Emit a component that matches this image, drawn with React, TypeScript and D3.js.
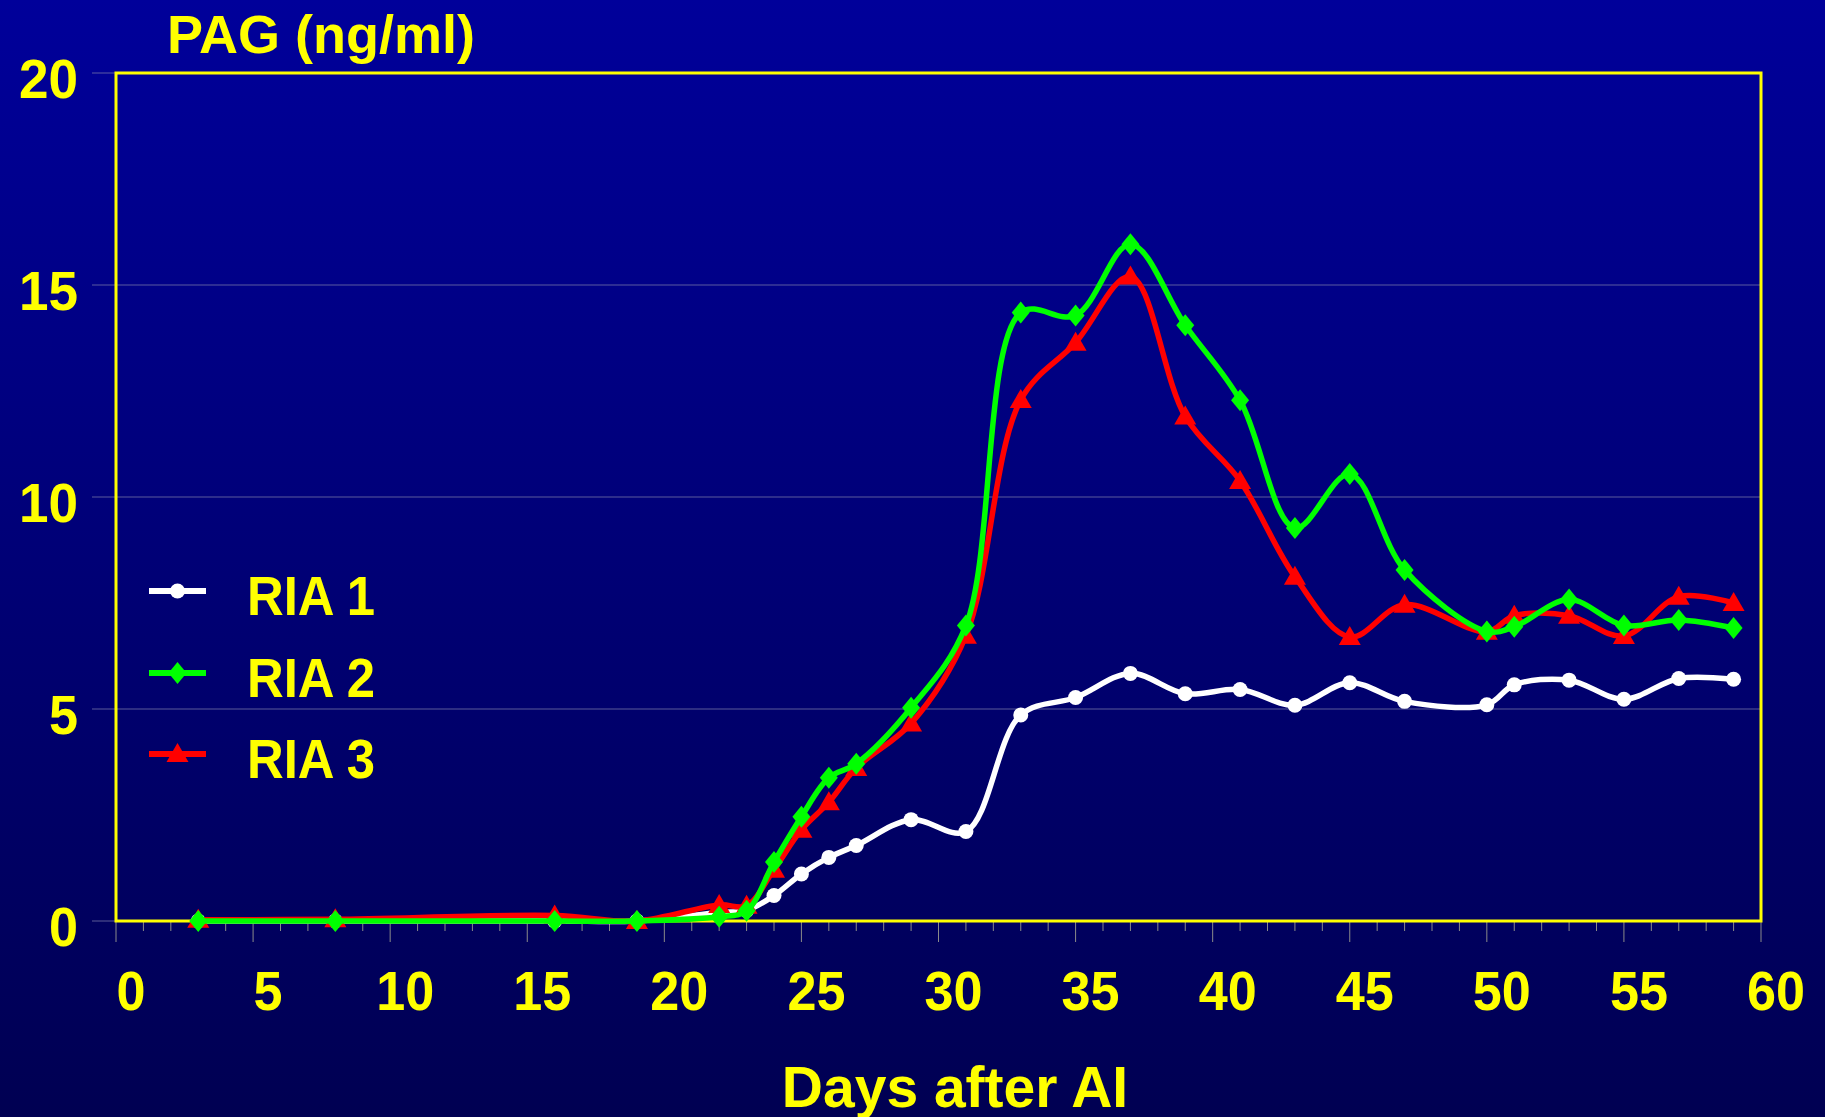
import React from "react";
import * as d3 from "d3";

const days = [3, 8, 16, 19, 22, 23, 24, 25, 26, 27, 29, 31, 33, 35, 37, 39, 41, 43, 45, 47, 50, 51, 53, 55, 57, 59];
const ria1 = [0, 0, 0, 0, 0.2, 0.25, 0.6, 1.11, 1.5, 1.78, 2.39, 2.11, 4.86, 5.27, 5.84, 5.36, 5.46, 5.09, 5.62, 5.18, 5.1, 5.57, 5.68, 5.23, 5.72, 5.7];
const ria2 = [0, 0, 0, 0, 0.1, 0.24, 1.39, 2.46, 3.38, 3.71, 5.03, 6.97, 14.35, 14.28, 15.96, 14.05, 12.28, 9.27, 10.54, 8.28, 6.83, 6.94, 7.58, 6.97, 7.1, 6.91];
const ria3 = [0.03, 0.04, 0.13, 0.0, 0.38, 0.36, 1.21, 2.15, 2.8, 3.61, 4.66, 6.73, 12.29, 13.64, 15.2, 11.9, 10.38, 8.12, 6.7, 7.46, 6.82, 7.2, 7.2, 6.72, 7.65, 7.5];

const xTicks = [0, 5, 10, 15, 20, 25, 30, 35, 40, 45, 50, 55, 60];
const yTicks = [0, 5, 10, 15, 20];
const legendLabels = ["RIA 1", "RIA 2", "RIA 3"];
const yTitle = "PAG (ng/ml)";
const xTitle = "Days after AI";

const W = 1825;
const H = 1117;
const YELLOW = "#FFFF00";
const FONT = "'Liberation Sans', Arial, sans-serif";

type Series = { name: string; values: number[]; color: string; marker: "circle" | "diamond" | "triangle" };

const series: Series[] = [
  { name: legendLabels[0], values: ria1, color: "#FFFFFF", marker: "circle" },
  { name: legendLabels[2], values: ria3, color: "#FF0000", marker: "triangle" },
  { name: legendLabels[1], values: ria2, color: "#00FF00", marker: "diamond" },
];

function Marker({ type, x, y, color }: { type: string; x: number; y: number; color: string }) {
  if (type === "circle") return <circle cx={x} cy={y} r={7.5} fill={color} />;
  if (type === "diamond")
    return <path d={`M${x},${y - 11} L${x + 9},${y} L${x},${y + 11} L${x - 9},${y} Z`} fill={color} />;
  return <path d={`M${x},${y - 11} L${x + 11},${y + 8} L${x - 11},${y + 8} Z`} fill={color} />;
}

export default function App() {
  const x = d3.scaleLinear().domain([0, 60]).range([116, 1761]);
  const y = d3.scaleLinear().domain([0, 20]).range([921, 73]);
  const line = d3
    .line<number>()
    .x((_, i) => x(days[i]))
    .y((v) => y(v))
    .curve(d3.curveCatmullRom.alpha(0.5));

  const minor = d3.range(0, 61, 1);
  const legendOrder = [
    { s: series[0], label: legendLabels[0] },
    { s: series[2], label: legendLabels[1] },
    { s: series[1], label: legendLabels[2] },
  ];
  const legendY = [591, 673, 754];

  return (
    <svg width={W} height={H} style={{ position: "absolute", left: 0, top: 0 }} fontFamily={FONT}>
      <defs>
        <linearGradient id="bg" x1="0" y1="0" x2="0" y2="1">
          <stop offset="0" stopColor="#00009A" />
          <stop offset="1" stopColor="#000052" />
        </linearGradient>
      </defs>
      <rect x={0} y={0} width={W} height={H} fill="url(#bg)" />

      {yTicks.map((t) => (
        <line key={`g${t}`} x1={92} x2={t === 0 || t === 20 ? 116 : 1761} y1={y(t)} y2={y(t)} stroke="#7a7aa8" strokeOpacity={0.75} strokeWidth={1} />
      ))}
      {minor.map((d) => (
        <line key={`t${d}`} x1={x(d)} x2={x(d)} y1={y(0)} y2={y(0) + (d % 5 === 0 ? 21 : 10)} stroke="#8a8a8a" strokeWidth={1} />
      ))}

      <rect x={116} y={73} width={1761 - 116} height={921 - 73} fill="none" stroke={YELLOW} strokeWidth={3} />

      {series.map((s) => (
        <g key={s.name}>
          <path d={line(s.values) || ""} fill="none" stroke={s.color} strokeWidth={5.5} strokeLinejoin="round" />
          {s.values.map((v, i) => (
            <Marker key={i} type={s.marker} x={x(days[i])} y={y(v)} color={s.color} />
          ))}
        </g>
      ))}

      {yTicks.map((t) => (
        <text key={`yl${t}`} x={78} y={y(t) + 25} textAnchor="end" fontSize={56} fontWeight="bold" fill={YELLOW}
          textLength={t < 10 ? 29 : 59} lengthAdjust="spacingAndGlyphs">
          {t}
        </text>
      ))}
      {xTicks.map((t) => (
        <text key={`xl${t}`} x={x(t) + 15} y={1010} textAnchor="middle" fontSize={56} fontWeight="bold" fill={YELLOW}
          textLength={t < 10 ? 29 : 58} lengthAdjust="spacingAndGlyphs">
          {t}
        </text>
      ))}

      <text x={321} y={53} textAnchor="middle" fontSize={54} fontWeight="bold" fill={YELLOW}>
        {yTitle}
      </text>
      <text x={955} y={1107} textAnchor="middle" fontSize={57} fontWeight="bold" fill={YELLOW}>
        {xTitle}
      </text>

      {legendOrder.map((l, i) => (
        <g key={l.label}>
          <line x1={149} x2={206} y1={legendY[i]} y2={legendY[i]} stroke={l.s.color} strokeWidth={6} />
          <Marker type={l.s.marker} x={177.5} y={legendY[i]} color={l.s.color} />
          <text x={247} y={legendY[i] + 24} fontSize={56} fontWeight="bold" fill={YELLOW} textLength={128} lengthAdjust="spacingAndGlyphs">
            {l.label}
          </text>
        </g>
      ))}
    </svg>
  );
}
